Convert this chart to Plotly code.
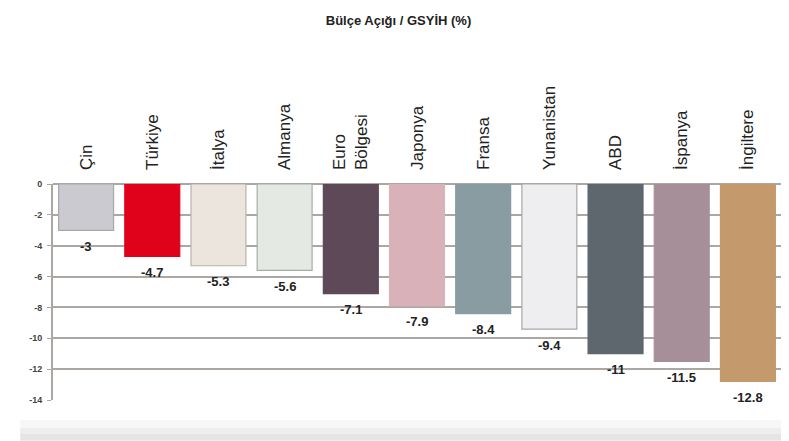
import plotly.graph_objects as go

categories = ["Çin", "Türkiye", "İtalya", "Almanya", "Euro<br>Bölgesi", "Japonya",
              "Fransa", "Yunanistan", "ABD", "İspanya", "İngiltere"]
values = [-3, -4.7, -5.3, -5.6, -7.1, -7.9, -8.4, -9.4, -11, -11.5, -12.8]
value_labels = ["-3", "-4.7", "-5.3", "-5.6", "-7.1", "-7.9", "-8.4", "-9.4", "-11", "-11.5", "-12.8"]
colors = ["#cacad0", "#e0021b", "#ece5de", "#e5e9e4", "#5d4958", "#d9b1b9",
          "#889ca2", "#eeeef0", "#5e666e", "#a78f9a", "#c49a6c"]
line_colors = ["#a8a8a8", "#e0021b", "#b8b2ac", "#a8aca8", "#5d4958", "#d9b1b9",
               "#889ca2", "#a8a8a8", "#5e666e", "#a78f9a", "#c49a6c"]
y_ticks = [0, -2, -4, -6, -8, -10, -12, -14]

# page body has an 8px margin, so the figure is sized/offset to compensate
W, H = 781, 433
ML, MR, MT, MB = 45, 8, 176, 41
plot_h = H - MT - MB

fig = go.Figure(go.Bar(
    x=categories, y=values,
    marker=dict(color=colors, line=dict(color=line_colors, width=1.2)),
    cliponaxis=False, width=0.83,
))

for c, v, t in zip(categories, values, value_labels):
    fig.add_annotation(x=c, y=v, text="<b>%s</b>" % t, showarrow=False,
                       yanchor="middle", yshift=-16,
                       font=dict(family="Liberation Sans, Arial", size=13, color="#222"))

def py(px_from_plot_bottom):
    return px_from_plot_bottom / plot_h

band = [(-20, -28, "#f7f7f7"), (-28, -34, "#eeeeee"), (-34, -40, "#e5e5e5"), (-40, -41, "#ededed")]
shapes = [dict(type="rect", xref="paper", yref="paper", x0=-0.045, x1=1.02,
               y0=py(b), y1=py(a), fillcolor=col, line=dict(width=0), layer="below")
          for a, b, col in band]

fig.update_layout(
    width=W, height=H,
    margin=dict(l=ML, r=MR, t=MT, b=MB),
    paper_bgcolor="white", plot_bgcolor="white",
    title=dict(text="<b>Bülçe Açığı / GSYİH (%)</b>", x=0.5, xanchor="center",
               y=1 - 12 / H, yanchor="middle",
               font=dict(family="Liberation Sans, Arial", size=13, color="#222")),
    showlegend=False,
    xaxis=dict(side="top", tickangle=-90, showgrid=False, showline=False,
               automargin=False, ticks="", ticklabelstandoff=13,
               tickfont=dict(family="Liberation Sans, Arial", size=17, color="#222")),
    yaxis=dict(range=[-14, 0], tickvals=y_ticks, ticktext=["<b>%s</b>" % v for v in y_ticks],
               automargin=False, ticklabelstandoff=3,
               showgrid=True, gridcolor="#ada7a3", gridwidth=1.5,
               zeroline=True, zerolinecolor="#ada7a3", zerolinewidth=2,
               showline=True, linecolor="#ada7a3", linewidth=2,
               ticks="outside", ticklen=4, tickcolor="#ada7a3",
               tickfont=dict(family="Liberation Sans, Arial", size=9, color="#444")),
    shapes=shapes,
)

fig.write_html("out.html")
